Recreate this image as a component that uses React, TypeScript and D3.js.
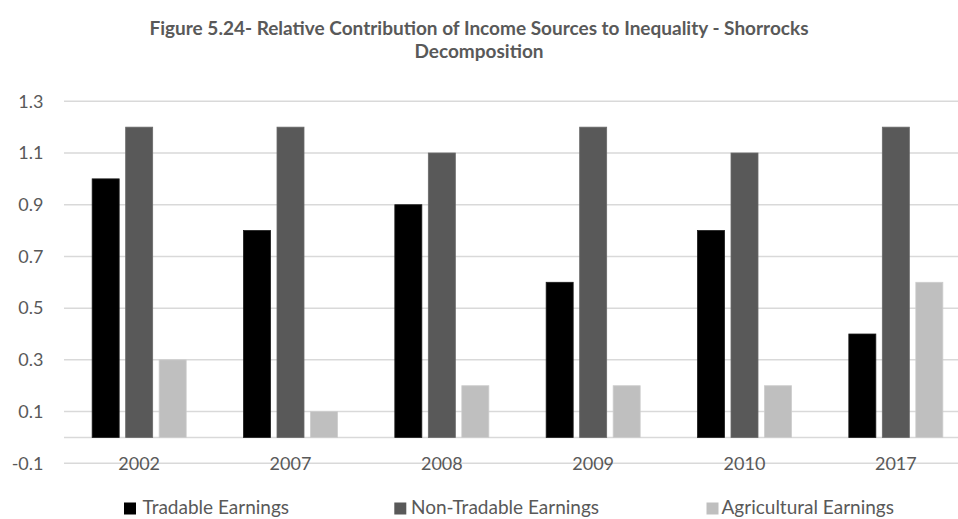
import React from "react";
import * as d3 from "d3";

const categories = ["2002", "2007", "2008", "2009", "2010", "2017"];
const seriesNames = ["Tradable Earnings", "Non-Tradable Earnings", "Agricultural Earnings"];
const tradable = [1.0, 0.8, 0.9, 0.6, 0.8, 0.4];
const nonTradable = [1.2, 1.2, 1.1, 1.2, 1.1, 1.2];
const agricultural = [0.3, 0.1, 0.2, 0.2, 0.2, 0.6];
const yTicks = [-0.1, 0.1, 0.3, 0.5, 0.7, 0.9, 1.1, 1.3];
const yTickLabels = ["-0.1", "0.1", "0.3", "0.5", "0.7", "0.9", "1.1", "1.3"];
const colors = ["#000000", "#595959", "#bfbfbf"];

const W = 958;
const H = 519;
const FONT = "Lato, 'Open Sans', sans-serif";

export default function App() {
  const series = [tradable, nonTradable, agricultural];
  const x = d3.scaleBand<string>().domain(categories).range([63.5, 971.5]).paddingInner(0).paddingOuter(0);
  const y = d3.scaleLinear().domain([-0.1, 1.3]).range([463.3, 101.3]);
  const barW = 27;
  const step = 33.5;
  const legendX = [124, 394.3, 706.5];
  const legendTextX = [142.5, 411, 721.5];

  return (
    <svg width={W} height={H} style={{ position: "absolute", left: 0, top: 0, background: "#fff" }} fontFamily={FONT}>
      <rect x={0} y={0} width={W} height={H} fill="#fff" />
      <text x={479} y={35} textAnchor="middle" fontSize={19} fontWeight="bold" fill="#595959">
        Figure 5.24- Relative Contribution of Income Sources to Inequality - Shorrocks
      </text>
      <text x={479} y={58} textAnchor="middle" fontSize={19} fontWeight="bold" fill="#595959">
        Decomposition
      </text>
      {yTicks.map((t, i) => (
        <g key={t}>
          <line x1={64} x2={W} y1={y(t)} y2={y(t)} stroke="#d9d9d9" strokeWidth={1.5} />
          <text x={43.5} y={y(t)} dy="0.35em" textAnchor="end" fontSize={18} fill="#595959">
            {yTickLabels[i]}
          </text>
        </g>
      ))}
      <line x1={64} x2={W} y1={y(0)} y2={y(0)} stroke="#d9d9d9" strokeWidth={1.5} />
      {categories.map((c, i) => {
        const cx = (x(c) as number) + x.bandwidth() / 2;
        return (
          <g key={c}>
            {series.map((s, k) => {
              const bx = cx + (k - 1) * step - barW / 2;
              const v = s[i];
              return (
                <rect
                  key={k}
                  x={bx}
                  y={y(Math.max(0, v))}
                  width={barW}
                  height={Math.abs(y(v) - y(0))}
                  fill={colors[k]}
                  stroke={k === 0 ? "#1a1a1a" : k === 1 ? "#6a6a6a" : "#cccccc"}
                  strokeWidth={0.8}
                />
              );
            })}
            <text x={cx} y={y(-0.1)} dy="0.38em" textAnchor="middle" fontSize={18} fill="#595959">
              {c}
            </text>
          </g>
        );
      })}
      {seriesNames.map((n, k) => (
        <g key={n}>
          <rect x={legendX[k]} y={502.5} width={12} height={12} fill={colors[k]} />
          <text x={legendTextX[k]} y={514} fontSize={19} fill="#595959">
            {n}
          </text>
        </g>
      ))}
    </svg>
  );
}
